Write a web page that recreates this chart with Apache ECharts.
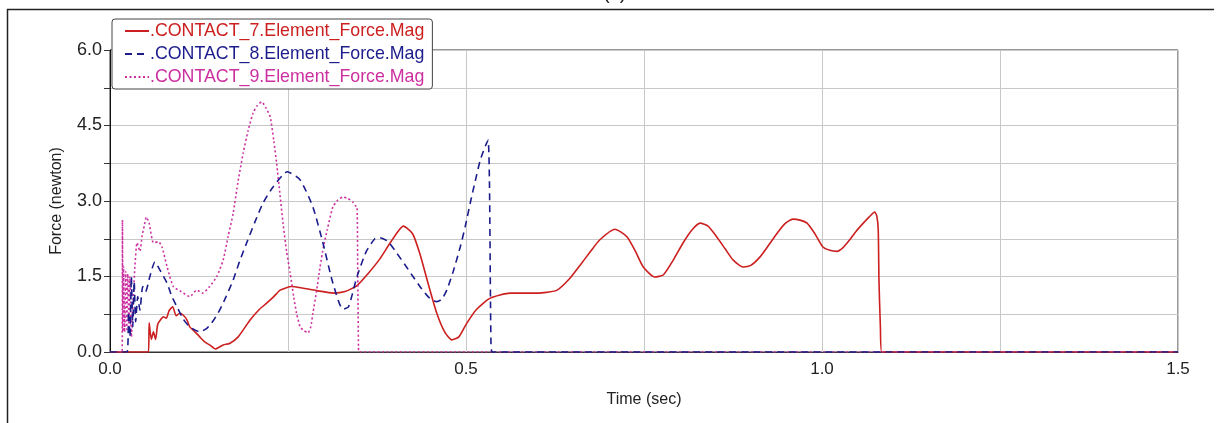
<!DOCTYPE html>
<html>
<head>
<meta charset="utf-8">
<script src="https://cdn.jsdelivr.net/npm/echarts@6/dist/echarts.min.js"></script>
<style>
html,body{margin:0;padding:0;background:#fff;}
#c{width:1219px;height:423px;}
</style>
</head>
<body>
<div id="c"></div>
<script>
const names = ['.CONTACT_7.Element_Force.Mag', '.CONTACT_8.Element_Force.Mag', '.CONTACT_9.Element_Force.Mag'];
const colors = ['#cc1f1f', '#1c1c8c', '#cc2fa0'];

const t7 = [0, 0.054, 0.055, 0.058, 0.061, 0.064, 0.067, 0.071, 0.075, 0.079, 0.083, 0.088, 0.093, 0.098, 0.103, 0.108, 0.112, 0.118, 0.126, 0.133, 0.14, 0.148, 0.159, 0.168, 0.18, 0.197, 0.21, 0.22, 0.23, 0.239, 0.255, 0.27, 0.29, 0.314, 0.33, 0.347, 0.362, 0.379, 0.395, 0.412, 0.425, 0.435, 0.447, 0.459, 0.47, 0.48, 0.49, 0.501, 0.515, 0.534, 0.562, 0.59, 0.61, 0.628, 0.645, 0.66, 0.675, 0.688, 0.709, 0.726, 0.738, 0.749, 0.765, 0.777, 0.79, 0.805, 0.817, 0.829, 0.84, 0.852, 0.864, 0.875, 0.889, 0.9, 0.913, 0.925, 0.937, 0.948, 0.959, 0.969, 0.979, 0.99, 1.001, 1.011, 1.021, 1.03, 1.039, 1.048, 1.058, 1.066, 1.074, 1.077, 1.079, 1.08, 1.082, 1.084, 1.5];
const f7 = [0, 0, 0.58, 0.25, 0.4, 0.25, 0.55, 0.64, 0.7, 0.67, 0.82, 0.9, 0.72, 0.77, 0.73, 0.64, 0.5, 0.42, 0.3, 0.2, 0.14, 0.06, 0.14, 0.17, 0.3, 0.64, 0.85, 0.97, 1.1, 1.23, 1.3, 1.27, 1.22, 1.17, 1.2, 1.32, 1.55, 1.85, 2.2, 2.5, 2.35, 1.96, 1.35, 0.77, 0.4, 0.24, 0.3, 0.57, 0.85, 1.07, 1.17, 1.17, 1.18, 1.23, 1.45, 1.72, 2.0, 2.23, 2.44, 2.29, 2.0, 1.69, 1.49, 1.53, 1.8, 2.17, 2.42, 2.56, 2.5, 2.29, 2.05, 1.83, 1.69, 1.72, 1.89, 2.12, 2.36, 2.55, 2.64, 2.62, 2.56, 2.35, 2.09, 2.02, 2.0, 2.08, 2.23, 2.4, 2.56, 2.68, 2.78, 2.7, 2.42, 1.43, 0.5, 0, 0];

const t8 = [0, 0.024, 0.026, 0.028, 0.030, 0.032, 0.034, 0.036, 0.039, 0.042, 0.046, 0.05, 0.056, 0.063, 0.07, 0.08, 0.087, 0.094, 0.103, 0.112, 0.126, 0.136, 0.145, 0.154, 0.163, 0.173, 0.182, 0.192, 0.204, 0.215, 0.229, 0.249, 0.267, 0.285, 0.299, 0.313, 0.327, 0.335, 0.347, 0.36, 0.372, 0.379, 0.39, 0.403, 0.415, 0.426, 0.438, 0.449, 0.459, 0.466, 0.473, 0.482, 0.492, 0.499, 0.506, 0.513, 0.52, 0.526, 0.531, 0.533, 0.535, 0.537, 1.5];
const f8 = [0, 0, 0.8, 0.3, 1.5, 0.5, 1.4, 0.6, 1.1, 0.83, 1.3, 1.2, 1.5, 1.79, 1.63, 1.37, 1.1, 0.9, 0.65, 0.5, 0.4, 0.47, 0.62, 0.83, 1.1, 1.43, 1.8, 2.17, 2.6, 2.96, 3.28, 3.58, 3.42, 2.88, 2.17, 1.37, 0.85, 0.9, 1.5, 2.0, 2.25, 2.27, 2.2, 1.96, 1.72, 1.49, 1.25, 1.07, 1.0, 1.05, 1.23, 1.6, 2.09, 2.5, 2.96, 3.4, 3.81, 4.05, 4.21, 3.3, 0.24, 0, 0];

const t9 = [0, 0.017, 0.0175, 0.018, 0.019, 0.0205, 0.022, 0.0235, 0.025, 0.0265, 0.028, 0.03, 0.032, 0.035, 0.038, 0.042, 0.045, 0.048, 0.051, 0.055, 0.061, 0.068, 0.073, 0.08, 0.089, 0.1, 0.112, 0.122, 0.13, 0.14, 0.15, 0.159, 0.166, 0.173, 0.18, 0.187, 0.194, 0.201, 0.207, 0.213, 0.219, 0.225, 0.23, 0.234, 0.239, 0.243, 0.248, 0.253, 0.258, 0.262, 0.267, 0.271, 0.278, 0.282, 0.285, 0.29, 0.295, 0.3, 0.305, 0.313, 0.32, 0.327, 0.334, 0.341, 0.345, 0.347, 0.348, 0.349, 0.35, 1.5];
const f9 = [0, 0, 2.62, 0.4, 1.7, 0.4, 1.6, 0.45, 1.55, 0.5, 1.5, 0.3, 0.9, 1.7, 2.17, 2.0, 2.3, 2.5, 2.68, 2.56, 2.17, 2.19, 2.09, 1.7, 1.3, 1.2, 1.1, 1.23, 1.17, 1.3, 1.5, 1.83, 2.3, 2.76, 3.4, 3.95, 4.4, 4.75, 4.9, 4.97, 4.85, 4.67, 4.2, 3.75, 3.1, 2.56, 2.0, 1.57, 1.1, 0.77, 0.5, 0.44, 0.38, 0.5, 0.77, 1.2, 1.69, 2.1, 2.42, 2.88, 3.02, 3.08, 3.05, 2.98, 2.9, 2.88, 1.5, 0.1, 0, 0];

const zip = (a, b) => a.map((v, i) => [v, b[i]]);
const FONT = '"Liberation Sans", Arial, sans-serif';

const chart = echarts.init(document.getElementById('c'), null, {renderer: 'canvas'});
chart.setOption({
  animation: false,
  backgroundColor: '#fff',
  textStyle: {fontFamily: FONT},
  grid: {left: 110, right: 41, top: 50, bottom: 71, show: true, borderColor: '#333', borderWidth: 1, backgroundColor: '#fff'},
  xAxis: {
    type: 'value', min: 0, max: 1.5, interval: 0.25,
    name: 'Time (sec)', nameLocation: 'middle', nameGap: 40,
    nameTextStyle: {fontSize: 16, color: '#222', fontFamily: FONT},
    axisLine: {show: true, lineStyle: {color: '#333', width: 1}},
    axisTick: {show: false},
    axisLabel: {fontSize: 17, color: '#222', margin: 9, fontFamily: FONT,
      formatter: v => (Math.abs(v * 2 - Math.round(v * 2)) < 1e-6 ? v.toFixed(1) : '')},
    splitLine: {show: true, lineStyle: {color: '#c8c8c8', width: 1}}
  },
  yAxis: {
    type: 'value', min: 0, max: 6, interval: 0.75,
    name: 'Force (newton)', nameLocation: 'middle', nameGap: 45,
    nameTextStyle: {fontSize: 16, color: '#222', fontFamily: FONT},
    axisLine: {show: true, lineStyle: {color: '#111', width: 1}},
    axisTick: {show: true, inside: false, length: 6, lineStyle: {color: '#333'}},
    axisLabel: {fontSize: 18, color: '#222', margin: 8, fontFamily: FONT,
      formatter: v => (Math.abs(v / 1.5 - Math.round(v / 1.5)) < 1e-6 ? v.toFixed(1) : '')},
    splitLine: {show: true, lineStyle: {color: '#c8c8c8', width: 1}}
  },
  legend: {
    orient: 'vertical', left: 112, top: 19,
    backgroundColor: '#fff', borderColor: '#444', borderWidth: 1, borderRadius: 3,
    padding: [3, 8, 3, 12], itemGap: 5, itemWidth: 24, itemHeight: 14,
    itemStyle: {opacity: 0},
    textStyle: {fontSize: 17.8, fontFamily: FONT, padding: [0, 0, 0, -4]},
    data: names.map((n, i) => ({name: n, textStyle: {color: colors[i]}}))
  },
  series: [
    {name: names[0], type: 'line', data: zip(t7, f7), showSymbol: false, symbol: 'none', z: 2,
      smooth: 0.2,
      lineStyle: {color: colors[0], width: 1.6, type: 'solid'}, itemStyle: {color: colors[0]}},
    {name: names[1], type: 'line', data: zip(t8, f8), showSymbol: false, symbol: 'none', z: 4,
      smooth: 0.2,
      lineStyle: {color: colors[1], width: 1.6, type: [7, 5]}, itemStyle: {color: colors[1]}},
    {name: names[2], type: 'line', data: zip(t9, f9), showSymbol: false, symbol: 'none', z: 3,
      smooth: 0.2,
      lineStyle: {color: colors[2], width: 1.6, type: [2, 2.5]}, itemStyle: {color: colors[2]}}
  ],
  graphic: [
    {type: 'line', shape: {x1: 7, y1: 9.5, x2: 1214, y2: 9.5}, style: {stroke: '#222', lineWidth: 1.5}, silent: true},
    {type: 'line', shape: {x1: 7.5, y1: 9, x2: 7.5, y2: 423}, style: {stroke: '#222', lineWidth: 1.5}, silent: true},
    {type: 'text', left: 603, top: -17, style: {text: '(c)', font: '20px ' + FONT, fill: '#222'}, silent: true}
  ]
});
</script>
</body>
</html>
